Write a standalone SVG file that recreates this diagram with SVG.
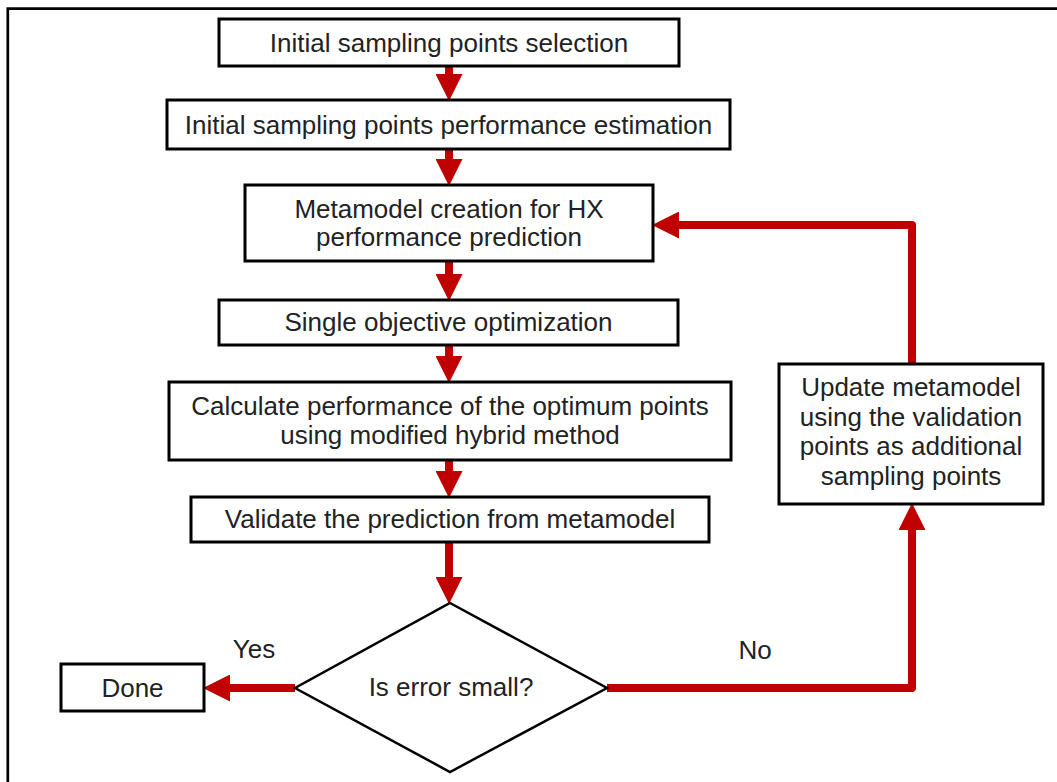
<svg xmlns="http://www.w3.org/2000/svg" width="1057" height="782" viewBox="0 0 1057 782">
<defs>
<marker id="ah" markerUnits="userSpaceOnUse" markerWidth="27" markerHeight="27" refX="1" refY="13" orient="auto" viewBox="0 0 26 26">
<path d="M0,0 L26,13 L0,26 z" fill="#C00000"/>
</marker>
<style>
.box{fill:#fff;stroke:#000;stroke-width:3}
.dia{fill:#fff;stroke:#000;stroke-width:2.5}
.t{font-family:"Liberation Sans",Arial,sans-serif;font-size:26px;fill:#222;text-anchor:middle}
.c{fill:none;stroke:#C00000;stroke-width:8;stroke-linejoin:round;marker-end:url(#ah)}
</style>
</defs>
<rect width="1057" height="782" fill="#fff"/>
<path d="M7.8,782 V8.7 H1057" fill="none" stroke="#000" stroke-width="2.7"/>
<g id="connectors">
<path class="c" d="M449,66 V75"/>
<path class="c" d="M449,149 V160"/>
<path class="c" d="M449,261 V275"/>
<path class="c" d="M449,345 V357"/>
<path class="c" d="M449,460 V472"/>
<path class="c" d="M449,542 V578"/>
<path class="c" d="M295,688 H229"/>
<path class="c" d="M607,688 H912 V529"/>
<path class="c" d="M912,364 V225 H678"/>
</g>
<g id="n1"><rect class="box" x="219" y="19" width="460" height="47"/><text class="t" x="449" y="52">Initial sampling points selection</text></g>
<g id="n2"><rect class="box" x="167" y="100" width="563" height="49"/><text class="t" x="448.5" y="134">Initial sampling points performance estimation</text></g>
<g id="n3"><rect class="box" x="245" y="185" width="408" height="76"/><text class="t" x="449" y="218">Metamodel creation for HX</text><text class="t" x="449" y="246">performance prediction</text></g>
<g id="n4"><rect class="box" x="219" y="300" width="459" height="45"/><text class="t" x="448.5" y="331">Single objective optimization</text></g>
<g id="n5"><rect class="box" x="169" y="382" width="562" height="78"/><text class="t" x="450" y="415">Calculate performance of the optimum points</text><text class="t" x="450" y="444">using modified hybrid method</text></g>
<g id="n6"><rect class="box" x="191" y="497" width="518" height="45"/><text class="t" x="450" y="528">Validate the prediction from metamodel</text></g>
<g id="n7"><polygon class="dia" points="450,603 607,688 450,772 295,688"/><text class="t" x="451" y="696">Is error small?</text></g>
<g id="n8"><rect class="box" x="61" y="664" width="143" height="47"/><text class="t" x="132.5" y="697">Done</text></g>
<g id="n9"><rect class="box" x="779" y="364" width="264" height="140"/><text class="t" x="911" y="396">Update metamodel</text><text class="t" x="911" y="426">using the validation</text><text class="t" x="911" y="455">points as additional</text><text class="t" x="911" y="485">sampling points</text></g>
<g id="labels"><text class="t" x="254" y="658">Yes</text><text class="t" x="755" y="659">No</text></g>
</svg>
